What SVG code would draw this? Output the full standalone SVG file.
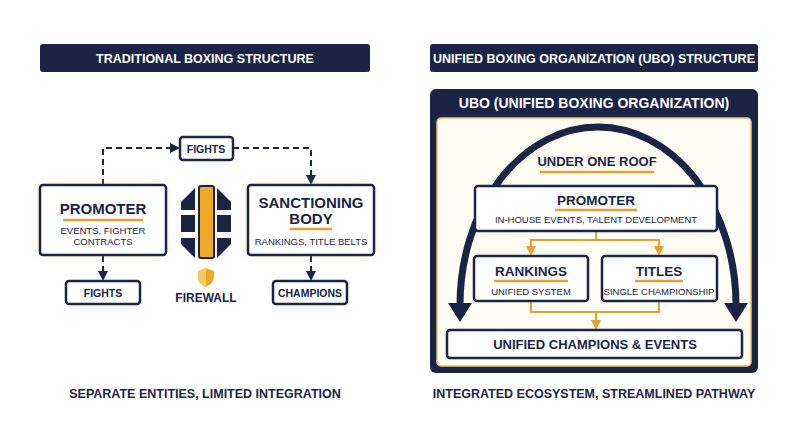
<svg xmlns="http://www.w3.org/2000/svg" width="800" height="447" viewBox="0 0 800 447">
<defs>
<style>
text{font-family:"Liberation Sans",Arial,sans-serif;fill:#1a2447;text-anchor:middle;font-weight:bold}
.box{fill:#fff;stroke:#1a2447;stroke-width:2.5}
.hdr{fill:#1a2447}
.ht{fill:#fff;font-size:12.5px}
.sm{font-size:9.5px;font-weight:normal}
.ul{stroke:#e8a030;stroke-width:2.5}
.dash{fill:none;stroke:#1a2447;stroke-width:2;stroke-dasharray:6 4}
.gold{fill:none;stroke:#e8a030;stroke-width:2}
</style>
<marker id="an" viewBox="0 0 10 10" refX="8" refY="5" markerWidth="5" markerHeight="5" orient="auto"><path d="M0,0L10,5L0,10z" fill="#1a2447"/></marker>
<marker id="ag" viewBox="0 0 10 10" refX="8" refY="5" markerWidth="5" markerHeight="5" orient="auto"><path d="M0,0L10,5L0,10z" fill="#e8a030"/></marker>
<filter id="glow" x="-20%" y="-20%" width="140%" height="140%"><feGaussianBlur stdDeviation="4"/></filter>
</defs>
<rect width="800" height="447" fill="#fff"/>
<g id="hdr-left"><rect class="hdr" x="40" y="44" width="330" height="28" rx="3"/><text class="ht" x="205" y="63">TRADITIONAL BOXING STRUCTURE</text></g>
<g id="hdr-right"><rect class="hdr" x="430" y="44" width="328" height="28" rx="3"/><text class="ht" x="594" y="63">UNIFIED BOXING ORGANIZATION (UBO) STRUCTURE</text></g>
<g id="ubo">
<rect x="430" y="89" width="328" height="284" rx="6" fill="#1a2447"/>
<rect x="437" y="118" width="314" height="248" rx="4" fill="#fffcf4" stroke="#f5c060" stroke-width="1.5"/>
<text x="594" y="108" font-size="14" style="fill:#fff">UBO (UNIFIED BOXING ORGANIZATION)</text>
<path d="M460,305A138,178 0 0 1 736,305" fill="none" stroke="#1a2447" stroke-width="7"/>
<path d="M448,303H472L460,322Z M724,303H748L736,322Z" fill="#1a2447"/>
<text x="597" y="166" font-size="13">UNDER ONE ROOF</text><line class="ul" x1="540" y1="172" x2="654" y2="172"/>
</g>
<g id="connectors">
<path class="dash" d="M103,185V148H178" marker-end="url(#an)"/>
<path class="dash" d="M233,148H311V183" marker-end="url(#an)"/>
<path class="dash" d="M103,256V279" marker-end="url(#an)"/>
<path class="dash" d="M311,256V279" marker-end="url(#an)"/>
<path class="gold" d="M596,232V240H531V254" marker-end="url(#ag)"/>
<path class="gold" d="M596,240H659V254" marker-end="url(#ag)"/>
<path class="gold" d="M531,302V312H659V302M596,312V328" marker-end="url(#ag)"/>
</g>
<g id="promoter"><rect x="40" y="185" width="126" height="70" rx="3" fill="#f5c060" opacity="0.5" filter="url(#glow)"/><rect class="box" x="40" y="185" width="126" height="70" rx="3"/><text x="103" y="214" font-size="15">PROMOTER</text><line class="ul" x1="63" y1="220" x2="143" y2="220"/><text class="sm" x="103" y="234">EVENTS, FIGHTER</text><text class="sm" x="103" y="245">CONTRACTS</text></g>
<g id="sanctioning"><rect x="248" y="185" width="126" height="70" rx="3" fill="#f5c060" opacity="0.5" filter="url(#glow)"/><rect class="box" x="248" y="185" width="126" height="70" rx="3"/><text x="311" y="208" font-size="15">SANCTIONING</text><text x="311" y="224" font-size="15">BODY</text><line class="ul" x1="290" y1="229" x2="332" y2="229"/><text class="sm" x="311" y="245">RANKINGS, TITLE BELTS</text></g>
<g id="fights-top"><rect class="box" x="180" y="137" width="53" height="23" rx="3"/><text x="206" y="153" font-size="10.5">FIGHTS</text></g>
<g id="fights-bottom"><rect class="box" x="66" y="281" width="74" height="23" rx="3"/><text x="103" y="297" font-size="10.5">FIGHTS</text></g>
<g id="champions"><rect class="box" x="273" y="281" width="74" height="23" rx="3"/><text x="310" y="297" font-size="10.5">CHAMPIONS</text></g>
<g id="firewall">
<rect x="199" y="186" width="16" height="72" rx="3" fill="#f5c060" opacity="0.6" filter="url(#glow)"/>
<path d="M181,202L195,188V210H181Z M181,215H195V232H181Z M181,238H195V258L181,244Z" fill="#1a2447"/>
<path d="M231,202L217,188V210H231Z M231,215H217V232H231Z M231,238H217V258L231,244Z" fill="#1a2447"/>
<rect x="199" y="186" width="15" height="72" rx="2" fill="#f0a828" stroke="#1a2447" stroke-width="2"/>
<path d="M206,268L214,271V277Q214,283 206,287Q198,283 198,277V271Z" fill="#f0a828"/>
<path d="M206,268V287Q198,283 198,277V271Z" fill="#f7c860"/>
<text x="206" y="302" font-size="12">FIREWALL</text>
</g>
<g id="ubo-promoter"><rect class="box" x="475" y="186" width="242" height="45" rx="3"/><text x="596" y="205" font-size="13.5">PROMOTER</text><line class="ul" x1="555" y1="210" x2="637" y2="210"/><text class="sm" x="596" y="223">IN-HOUSE EVENTS, TALENT DEVELOPMENT</text></g>
<g id="rankings"><rect class="box" x="474" y="256" width="114" height="45" rx="3"/><text x="531" y="276" font-size="13.5">RANKINGS</text><line class="ul" x1="494" y1="281" x2="568" y2="281"/><text class="sm" x="531" y="295">UNIFIED SYSTEM</text></g>
<g id="titles"><rect class="box" x="602" y="256" width="115" height="45" rx="3"/><text x="659" y="276" font-size="13.5">TITLES</text><line class="ul" x1="635" y1="281" x2="683" y2="281"/><text class="sm" x="659" y="295">SINGLE CHAMPIONSHIP</text></g>
<g id="unified"><rect class="box" x="447" y="330" width="295" height="28" rx="3"/><text x="595" y="349" font-size="13">UNIFIED CHAMPIONS &amp; EVENTS</text></g>
<text x="205" y="398" font-size="12.5">SEPARATE ENTITIES, LIMITED INTEGRATION</text>
<text x="594" y="398" font-size="12.5">INTEGRATED ECOSYSTEM, STREAMLINED PATHWAY</text>
</svg>
